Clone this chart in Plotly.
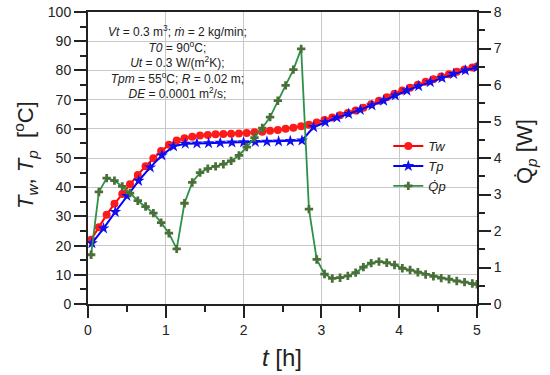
import plotly.graph_objects as go

# Time grids [h]
t_w = [0.04, 0.14, 0.24, 0.34, 0.44, 0.54, 0.64, 0.74, 0.84, 0.94,
       1.04, 1.14, 1.24, 1.34, 1.44, 1.54, 1.64, 1.74, 1.84, 1.94,
       2.04, 2.14, 2.24, 2.34, 2.44, 2.54, 2.64, 2.74, 2.84, 2.94,
       3.04, 3.14, 3.24, 3.34, 3.44, 3.54, 3.64, 3.74, 3.84, 3.94,
       4.04, 4.14, 4.24, 4.34, 4.44, 4.54, 4.64, 4.74, 4.84, 4.94, 5.0]
t_p = [0.05, 0.20, 0.35, 0.50, 0.65, 0.80, 0.95, 1.10, 1.25, 1.40,
       1.55, 1.70, 1.85, 2.00, 2.15, 2.30, 2.45, 2.60, 2.75, 2.90,
       3.05, 3.20, 3.35, 3.50, 3.65, 3.80, 3.95, 4.10, 4.25, 4.40,
       4.55, 4.70, 4.85, 5.00]

# Water temperature Tw [oC]
Tw = [22.0, 26.3, 30.6, 34.3, 37.7, 41.0, 44.2, 47.2, 49.9, 52.4,
      54.5, 56.0, 56.8, 57.3, 57.7, 57.9, 58.1, 58.2, 58.3, 58.4,
      58.6, 58.8, 59.0, 59.3, 59.6, 60.0, 60.4, 60.9, 61.4, 62.2,
      63.0, 63.9, 64.6, 65.4, 66.3, 67.2, 68.4, 69.6, 70.8, 72.0,
      73.1, 74.1, 75.1, 76.1, 77.0, 77.9, 78.7, 79.5, 80.3, 81.0, 81.3]

# PCM temperature Tp [oC]
Tp = [20.8, 25.9, 31.5, 37.0, 42.2, 46.8, 50.9, 54.0, 54.9, 55.0,
      55.1, 55.2, 55.3, 55.4, 55.5, 55.6, 55.7, 55.8, 56.0, 60.6,
      62.3, 63.8, 65.1, 66.5, 68.0, 69.6, 71.4, 73.1, 74.6, 76.0,
      77.4, 78.8, 80.0, 81.0]

# Heat flow Qp [W]
Qp = [1.35, 3.07, 3.45, 3.38, 3.22, 3.04, 2.83, 2.67, 2.49, 2.23,
      1.94, 1.51, 2.76, 3.33, 3.60, 3.71, 3.77, 3.83, 3.92, 4.07,
      4.30, 4.56, 4.82, 5.12, 5.57, 5.99, 6.42, 6.99, 2.60, 1.22,
      0.82, 0.70, 0.72, 0.77, 0.86, 1.01, 1.12, 1.16, 1.13, 1.07,
      0.98, 0.93, 0.87, 0.81, 0.76, 0.71, 0.68, 0.63, 0.60, 0.56, 0.54]

x_ticks = [0, 1, 2, 3, 4, 5]
y_ticks = [0, 10, 20, 30, 40, 50, 60, 70, 80, 90, 100]
y2_ticks = [0, 1, 2, 3, 4, 5, 6, 7, 8]

FONT = "Arial, Liberation Sans, sans-serif"
AX = "#222222"

fig = go.Figure()
fig.add_trace(go.Scatter(
    x=t_w, y=Tw, name="<i>Tw</i>", mode="lines+markers",
    line=dict(color="#ff0000", width=2),
    marker=dict(symbol="circle", size=8, color="#ff1a1a")))
fig.add_trace(go.Scatter(
    x=t_p, y=Tp, name="<i>Tp</i>", mode="lines+markers",
    line=dict(color="#0000ff", width=2),
    marker=dict(symbol="star", size=9, color="#1010ee")))
fig.add_trace(go.Scatter(
    x=t_w, y=Qp, name="<i>Q̇p</i>", mode="lines+markers", yaxis="y2",
    line=dict(color="#2e9148", width=1.8),
    marker=dict(symbol="cross", size=7, color="#4a7038")))

fig.update_layout(
    width=550, height=375,
    margin=dict(l=88, r=73, t=12, b=71, autoexpand=False),
    paper_bgcolor="white", plot_bgcolor="white",
    font=dict(family=FONT, size=14, color="#222222"),
    showlegend=True,
    legend=dict(x=0.772, y=0.592, xanchor="left", yanchor="top",
                bgcolor="rgba(255,255,255,0)",
                font=dict(family=FONT, size=13, color="#222222"),
                tracegroupgap=0),
    xaxis=dict(range=[0, 5], tickvals=x_ticks, ticks="outside", ticklen=12,
               tickwidth=1.5, tickcolor=AX, showline=True, linecolor=AX,
               linewidth=2, mirror=True, showgrid=True, gridcolor="#c8c8c8",
               gridwidth=1, zeroline=False, automargin=False,
               minor=dict(dtick=0.5, ticks="outside", ticklen=6,
                          tickcolor=AX, tickwidth=1.5, showgrid=False),
               tickfont=dict(size=14)),
    yaxis=dict(range=[0, 100], tickvals=y_ticks, ticks="outside", ticklen=12,
               tickwidth=1.5, tickcolor=AX, showline=True, linecolor=AX,
               linewidth=2, showgrid=True, gridcolor="#c8c8c8", gridwidth=1,
               zeroline=False, automargin=False, ticklabeloverflow="allow",
               minor=dict(dtick=5, ticks="outside", ticklen=6,
                          tickcolor=AX, tickwidth=1.5, showgrid=False),
               tickfont=dict(size=14)),
    yaxis2=dict(range=[0, 8], tickvals=y2_ticks, overlaying="y", side="right",
                ticks="outside", ticklen=12, tickwidth=1.5, tickcolor=AX,
                showline=True, linecolor=AX, linewidth=2, showgrid=False,
                zeroline=False, automargin=False, ticklabeloverflow="allow",
                minor=dict(dtick=0.5, ticks="outside", ticklen=6,
                           tickcolor=AX, tickwidth=1.5),
                tickfont=dict(size=14)),
)

info = ("<i>Vt</i> = 0.3 m<sup>3</sup>; <i>ṁ</i> = 2 kg/min;<br>"
        "<i>T0</i> = 90<sup>o</sup>C;<br>"
        "<i>Ut</i> = 0.3 W/(m<sup>2</sup>K);<br>"
        "<i>Tpm</i> = 55<sup>o</sup>C; <i>R</i> = 0.02 m;<br>"
        "<i>DE</i> = 0.0001 m<sup>2</sup>/s;")
fig.add_annotation(text=info, xref="paper", yref="paper", x=0.2306, y=0.83,
                   xanchor="center", yanchor="middle", showarrow=False,
                   align="center", font=dict(family=FONT, size=12, color="#222222"))

fig.add_annotation(text="<i>T</i><sub><i>w</i></sub>, <i>T</i><sub><i>p</i></sub>  [<sup>o</sup>C]",
                   xref="paper", yref="paper", x=(25 - 88) / 389, y=1 - (155 - 12) / 292,
                   xanchor="center", yanchor="middle", textangle=-90, showarrow=False,
                   font=dict(family=FONT, size=22, color="#222222"))
fig.add_annotation(text="Q̇<sub><i>p</i></sub> [W]",
                   xref="paper", yref="paper", x=(526 - 88) / 389, y=1 - (152 - 12) / 292,
                   xanchor="center", yanchor="middle", textangle=-90, showarrow=False,
                   font=dict(family=FONT, size=22, color="#222222"))
fig.add_annotation(text="<i>t</i> [h]",
                   xref="paper", yref="paper", x=(282 - 88) / 389, y=-(357 - 304) / 292,
                   xanchor="center", yanchor="middle", showarrow=False,
                   font=dict(family=FONT, size=24, color="#222222"))

fig.write_html("out.html", config={"displayModeBar": False},
               post_script="document.body.style.margin='0px';")
